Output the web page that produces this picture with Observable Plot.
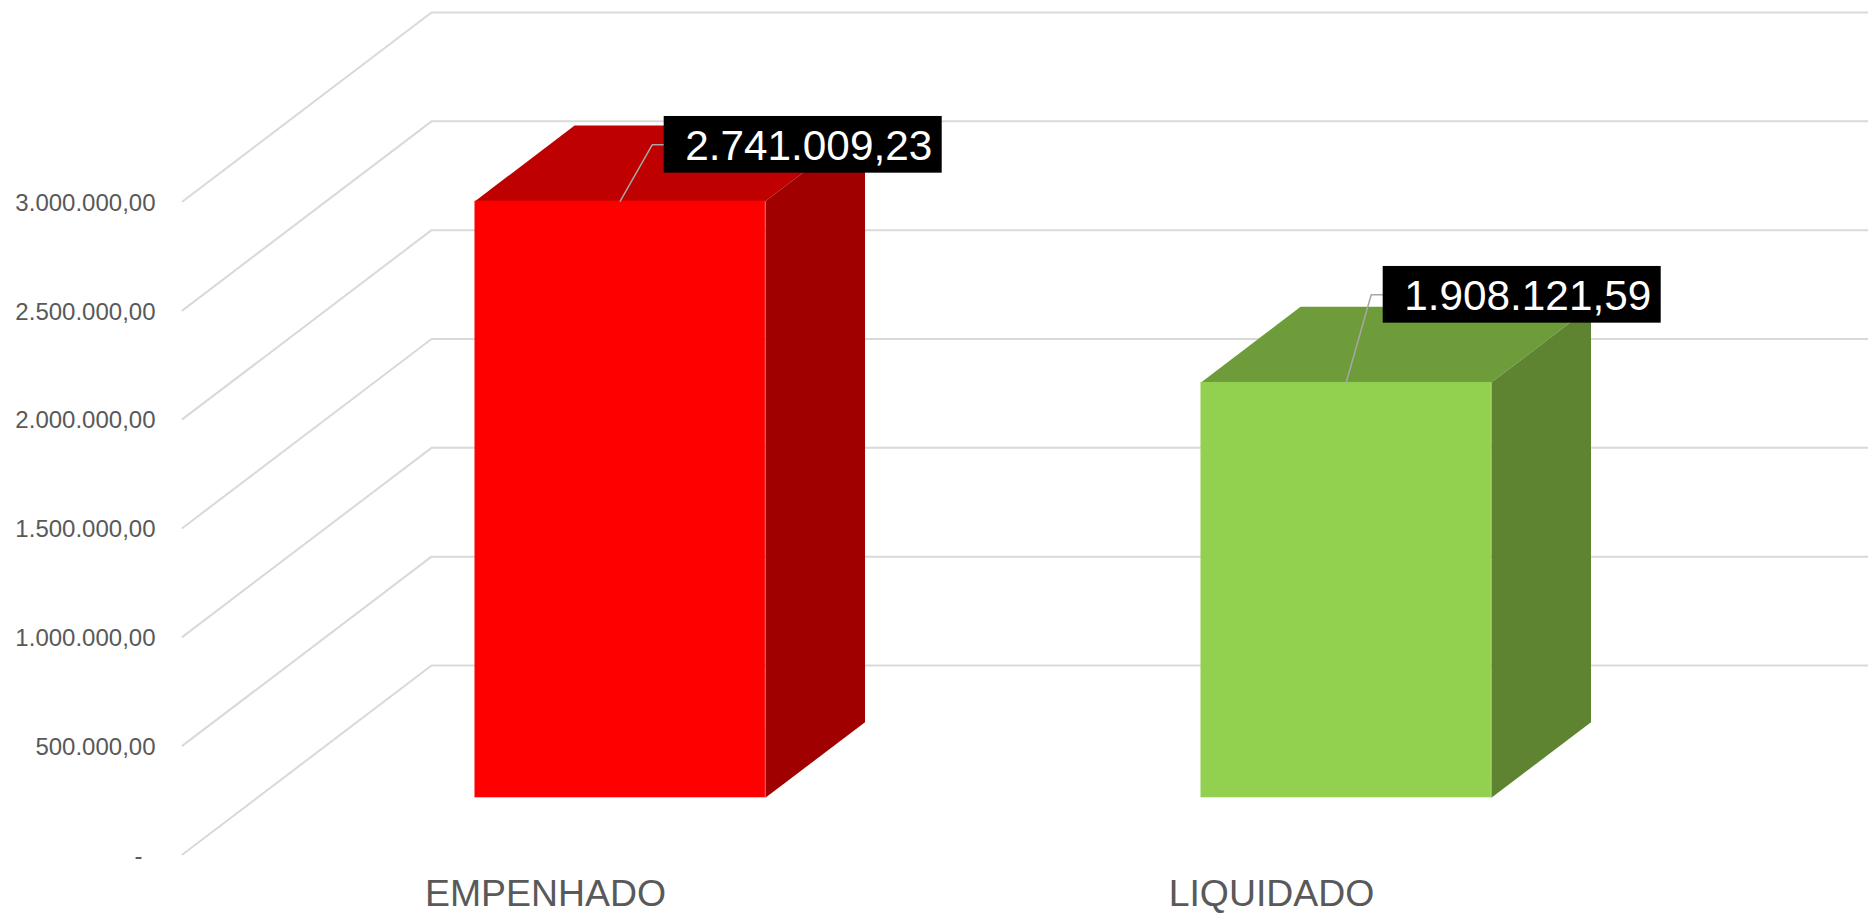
<!DOCTYPE html>
<html>
<head>
<meta charset="utf-8">
<style>
html,body{margin:0;padding:0;background:#fff;overflow:hidden}
svg{display:block}
</style>
<script src="https://cdn.jsdelivr.net/npm/d3@7"></script>
<script src="https://cdn.jsdelivr.net/npm/@observablehq/plot@0.6"></script>
</head>
<body>
<div id="chart"></div>
<script>
// Data
const categories = ["EMPENHADO", "LIQUIDADO"];
const values = [2741009.23, 1908121.59];
const yTicks = [0, 500000, 1000000, 1500000, 2000000, 2500000, 3000000];

// Styling
const frontColors = ["#FF0000", "#92D050"];
const topColors = ["#BF0000", "#6F9C3B"];
const sideColors = ["#A00000", "#5E8431"];
const gridColor = "#D9D9D9";
const textColor = "#595959";

// Oblique projection of the chart's depth: z=0 is the front of the floor, z=1 the back wall
const floorPx = [182, 1634];
const yPx = [854, 201];
const pxPerCat = (floorPx[1] - floorPx[0]) / categories.length;
const pxPerVal = (yPx[0] - yPx[1]) / 3000000;
const depthU = 249 / pxPerCat;
const depthV = 189 / pxPerVal;
const project = (u, v, z) => ({x: u + z * depthU, y: v + z * depthV});
const barHalf = 0.2, z0 = 0.3, z1 = 0.7;

const fmtMoney = d3.formatLocale({decimal: ",", thousands: ".", grouping: [3]}).format(",.2f");

// Grid: from the front of the floor, up the side wall, along the back wall
const grid = yTicks.flatMap((t) => [
  {...project(0, t, 0), id: t},
  {...project(0, t, 1), id: t},
  {...project(categories.length, t, 1), id: t}
]);

// Bar faces
const faces = values.flatMap((v, i) => {
  const a = i + 0.5 - barHalf, b = i + 0.5 + barHalf;
  const poly = (kind, color, pts) => pts.map(([u, w, z]) => ({...project(u, w, z), id: kind + i, color}));
  return [
    ...poly("top", topColors[i], [[a, v, z0], [b, v, z0], [b, v, z1], [a, v, z1]]),
    ...poly("side", sideColors[i], [[b, 0, z0], [b, 0, z1], [b, v, z1], [b, v, z0]])
  ];
});
const fronts = values.map((v, i) => {
  const p = project(i + 0.5 - barHalf, 0, z0), q = project(i + 0.5 + barHalf, v, z0);
  return {x1: p.x, x2: q.x, y1: p.y, y2: q.y, color: frontColors[i]};
});

// Data labels, placed in pixel offsets from the top-front centre of each bar
const labelLayout = [{left: 44, up: 28}, {left: 37, up: 59.3}];
const boxW = 278, boxH = 56.7, elbowBack = 12, textPad = 10;
const U = (px) => px / pxPerCat, V = (px) => px / pxPerVal;
const anchors = values.map((v, i) => project(i + 0.5, v, z0));
const boxes = anchors.map((a, i) => {
  const {left, up} = labelLayout[i];
  return {
    x1: a.x + U(left), x2: a.x + U(left + boxW),
    y1: a.y + V(up), y2: a.y + V(up + boxH),
    label: fmtMoney(values[i])
  };
});
const leaders = anchors.flatMap((a, i) => {
  const {left, up} = labelLayout[i];
  const my = a.y + V(up + boxH / 2);
  return [
    {x: a.x, y: a.y, id: i},
    {x: a.x + U(left - elbowBack), y: my, id: i},
    {x: a.x + U(left), y: my, id: i}
  ];
});

const axisCommon = {tickSize: 0, label: null, color: textColor, fontSize: 24, dy: 1.5};

const chart = Plot.plot({
  width: 1868,
  height: 914,
  marginLeft: 182,
  marginRight: 0,
  marginTop: 0,
  marginBottom: 60,
  style: {fontFamily: "'Liberation Sans', Arial, sans-serif", background: "#fff", overflow: "hidden"},
  x: {type: "linear", domain: [0, categories.length], range: floorPx},
  y: {type: "linear", domain: [0, 3000000], range: yPx},
  color: {type: "identity"},
  marks: [
    Plot.line(grid, {x: "x", y: "y", z: "id", stroke: gridColor, strokeWidth: 2, curve: "linear"}),
    Plot.line(faces, {x: "x", y: "y", z: "id", fill: "color", stroke: "none", curve: "linear"}),
    Plot.rect(fronts, {x1: "x1", x2: "x2", y1: "y1", y2: "y2", fill: "color"}),
    Plot.line(leaders, {x: "x", y: "y", z: "id", stroke: "#A6A6A6", strokeWidth: 1.5, curve: "linear"}),
    Plot.rect(boxes, {x1: "x1", x2: "x2", y1: "y1", y2: "y2", fill: "#000"}),
    Plot.text(boxes, {
      x: (d) => d.x2 - U(textPad),
      y: (d) => (d.y1 + d.y2) / 2,
      text: "label",
      textAnchor: "end",
      lineAnchor: "middle",
      fill: "#fff",
      fontSize: 42.3,
      dy: 1.5
    }),
    Plot.axisY({
      ...axisCommon,
      ticks: yTicks.filter((t) => t > 0),
      tickPadding: 27,
      tickFormat: fmtMoney
    }),
    Plot.axisY({
      ...axisCommon,
      ticks: [0],
      tickPadding: 40,
      tickFormat: () => "-"
    }),
    Plot.axisX({
      ticks: categories.map((_, i) => i + 0.5),
      tickFormat: (t) => categories[Math.floor(t)],
      tickSize: 0,
      tickPadding: 25,
      label: null,
      color: textColor,
      fontSize: 37.4
    })
  ]
});
document.getElementById("chart").append(chart);
</script>
</body>
</html>
